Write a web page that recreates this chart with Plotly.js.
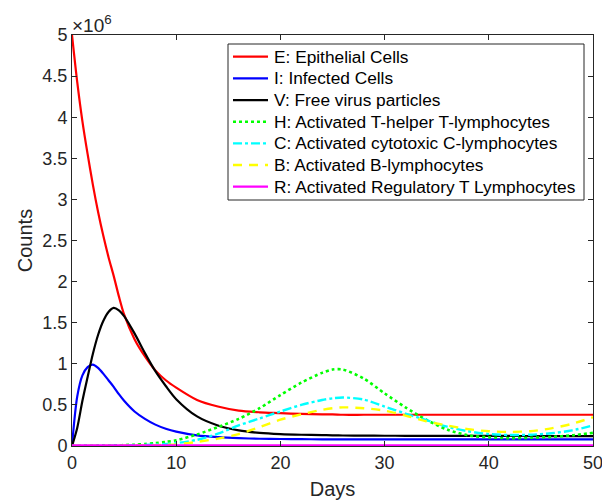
<!DOCTYPE html>
<html>
<head>
<meta charset="utf-8">
<script src="https://cdn.plot.ly/plotly-3.0.1.min.js"></script>
<style>html,body{margin:0;padding:0;background:#fff;}#chart{width:602px;height:502px;}</style>
</head>
<body>
<div id="chart"></div>
<script>
// Time (days)
const days = [0,0.5,1,1.5,2,2.5,3,3.5,4,4.5,5,6,7,8,9,10,12,14,16,18,20,22,24,25,26,28,30,32,34,36,38,40,42,44,46,48,50];
// Counts in millions (axis shows x10^6)
const E = [5.0,4.43,3.95,3.55,3.18,2.85,2.56,2.3,2.07,1.82,1.6,1.3,1.09,0.92,0.8,0.71,0.56,0.48,0.43,0.41,0.40,0.39,0.385,0.385,0.38,0.38,0.38,0.38,0.38,0.38,0.38,0.38,0.38,0.38,0.38,0.38,0.38];
const I = [0,0.6,0.86,0.96,0.99,0.95,0.88,0.8,0.72,0.63,0.55,0.42,0.33,0.26,0.21,0.175,0.13,0.108,0.095,0.088,0.085,0.083,0.081,0.08,0.08,0.08,0.08,0.08,0.08,0.08,0.08,0.08,0.08,0.08,0.08,0.08,0.08];
const V = [0,0.22,0.55,0.84,1.12,1.35,1.52,1.63,1.68,1.65,1.58,1.37,1.13,0.91,0.73,0.57,0.36,0.25,0.19,0.16,0.145,0.137,0.132,0.13,0.128,0.126,0.125,0.124,0.124,0.123,0.123,0.122,0.122,0.121,0.121,0.12,0.12];
const H = [0,0,0.001,0.002,0.003,0.004,0.005,0.006,0.008,0.009,0.011,0.016,0.024,0.036,0.05,0.07,0.14,0.23,0.33,0.46,0.62,0.77,0.89,0.93,0.93,0.82,0.64,0.47,0.32,0.2,0.13,0.105,0.095,0.1,0.11,0.13,0.16];
const C = [0,0,0,0.001,0.001,0.002,0.002,0.003,0.003,0.004,0.005,0.008,0.012,0.018,0.025,0.035,0.075,0.15,0.25,0.335,0.42,0.5,0.56,0.58,0.59,0.565,0.48,0.395,0.315,0.235,0.18,0.145,0.134,0.137,0.155,0.19,0.25];
const B = [0,0,0,0,0.001,0.001,0.001,0.002,0.002,0.003,0.003,0.005,0.007,0.01,0.014,0.02,0.05,0.09,0.145,0.23,0.32,0.385,0.44,0.46,0.47,0.46,0.43,0.37,0.3,0.25,0.205,0.18,0.172,0.18,0.215,0.27,0.35];
const R = [0.008,0.008,0.008,0.008,0.008,0.008,0.008,0.008,0.008,0.008,0.008,0.008,0.008,0.008,0.008,0.008,0.008,0.008,0.008,0.008,0.008,0.008,0.008,0.008,0.008,0.008,0.008,0.008,0.008,0.008,0.008,0.008,0.008,0.008,0.008,0.008,0.008];

const names = ['E: Epithelial Cells','I: Infected Cells','V: Free virus particles','H: Activated T-helper T-lymphocytes','C: Activated cytotoxic C-lymphocytes','B: Activated B-lymphocytes','R: Activated Regulatory T Lymphocytes'];
const xTicks = [0,10,20,30,40,50];
const yTicks = [0,0.5,1,1.5,2,2.5,3,3.5,4,4.5,5];
const yTickText = ['0','0.5','1','1.5','2','2.5','3','3.5','4','4.5','5'];

const series = [E,I,V,H,C,B,R];
const colors = ['#ff0000','#0000ff','#000000','#00ff00','#00ffff','#ffff00','#ff00ff'];
const dashes = ['solid','solid','solid','dot','dashdot','9px,7px','solid'];
const widths = [2.2,2.2,2.2,2.6,2.4,2.4,2.2];
const FONT = 'Liberation Sans, Arial, Helvetica, sans-serif';

const traces = series.map((s,i)=>({
  x: days, y: s, type:'scatter', mode:'lines', name: names[i], showlegend:false,
  line:{color:colors[i], dash:dashes[i], width:widths[i], shape:'spline', smoothing:0.8}
}));

// plot-area geometry (pixels) used to place the hand-built legend box
const W = 602, Hh = 502, mL = 72, mR = 9, mT = 35, mB = 56;
const pw = W - mL - mR, ph = Hh - mT - mB;
const px = v => (v - mL) / pw;
const py = v => (Hh - mB - v) / ph;

const shapes = [{
  type:'rect', xref:'paper', yref:'paper',
  x0:px(228), x1:px(584), y0:py(200), y1:py(44),
  fillcolor:'#ffffff', line:{color:'#262626', width:1}, layer:'above'
}];
const annotations = [{
  xref:'paper', yref:'paper', x:0, y:1, xanchor:'left', yanchor:'bottom',
  text:'×10<sup>6</sup>', showarrow:false, yshift:-3, xshift:-2,
  font:{family:FONT, size:19, color:'#262626'}
}];
names.forEach((n,i)=>{
  const yc = 56.7 + i*21.67;
  shapes.push({type:'line', xref:'paper', yref:'paper', x0:px(233), x1:px(268), y0:py(yc), y1:py(yc),
    line:{color:colors[i], width:widths[i], dash:dashes[i]}, layer:'above'});
  annotations.push({xref:'paper', yref:'paper', x:px(272), y:py(yc), xanchor:'left', yanchor:'middle',
    text:n, showarrow:false, font:{family:FONT, size:17.3, color:'#000'}});
});

const axisCommon = {
  showgrid:false, zeroline:false, showline:true, mirror:'ticks',
  linecolor:'#262626', linewidth:1, ticks:'inside', ticklen:5, tickcolor:'#262626',
  tickfont:{family:FONT, size:18, color:'#262626'}, ticklabeloverflow:'allow'
};

const layout = {
  width:W, height:Hh,
  margin:{l:mL, r:mR, t:mT, b:mB},
  paper_bgcolor:'#fff', plot_bgcolor:'#fff',
  font:{family:FONT, color:'#262626'},
  showlegend:false,
  xaxis: Object.assign({}, axisCommon, {
    range:[0,50], tickvals:xTicks, ticktext:xTicks.map(String),
    title:{text:'Days', font:{size:20, color:'#262626'}, standoff:10}
  }),
  yaxis: Object.assign({}, axisCommon, {
    range:[0,5], tickvals:yTicks, ticktext:yTickText,
    title:{text:'Counts', font:{size:20, color:'#262626'}, standoff:4}
  }),
  shapes: shapes,
  annotations: annotations
};

Plotly.newPlot('chart', traces, layout, {staticPlot:true, displayModeBar:false});
</script>
</body>
</html>
